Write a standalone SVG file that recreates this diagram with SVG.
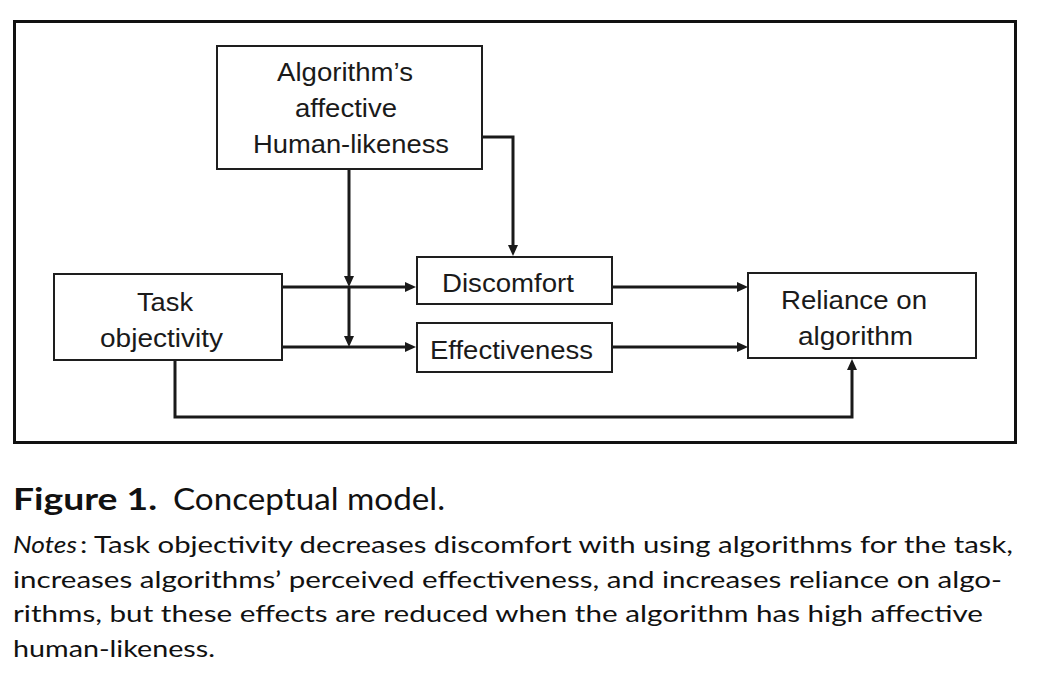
<svg xmlns="http://www.w3.org/2000/svg" width="1040" height="686" viewBox="0 0 1040 686">
<defs>
<style>
.box{fill:#fff;stroke:#1e1e1e;stroke-width:2}
.lbl{font-family:"Liberation Sans",Arial,sans-serif;font-size:25px;fill:#1a1a1a;text-anchor:middle}
.con{fill:none;stroke:#1a1a1a;stroke-width:3}
.cap{font-family:Lato,"Open Sans",sans-serif;fill:#111}
</style>
<marker id="ah" markerUnits="userSpaceOnUse" markerWidth="12" markerHeight="12" viewBox="0 0 12 12" refX="3" refY="6" orient="auto">
<path d="M0,1 L11,6 L0,11 Z" fill="#1a1a1a"/>
</marker>
</defs>
<rect width="1040" height="686" fill="#fff"/>
<rect x="14.5" y="21.5" width="1001" height="421" fill="none" stroke="#111" stroke-width="3"/>

<g id="connectors">
<path class="con" d="M282 287 H408" marker-end="url(#ah)"/>
<path class="con" d="M282 347 H408" marker-end="url(#ah)"/>
<path class="con" d="M349 169 V279" marker-end="url(#ah)"/>
<path class="con" d="M349 287 V339" marker-end="url(#ah)"/>
<path class="con" d="M482 137 H513 V248" marker-end="url(#ah)"/>
<path class="con" d="M612 287 H740" marker-end="url(#ah)"/>
<path class="con" d="M612 347 H740" marker-end="url(#ah)"/>
<path class="con" d="M175 360 V417 H852 V367" marker-end="url(#ah)"/>
</g>

<g id="human-likeness">
<rect class="box" x="217" y="46" width="265" height="123"/>
<text class="lbl" x="345" y="81" textLength="136" lengthAdjust="spacingAndGlyphs">Algorithm’s</text>
<text class="lbl" x="346" y="117" textLength="102" lengthAdjust="spacingAndGlyphs">affective</text>
<text class="lbl" x="351" y="153" textLength="196" lengthAdjust="spacingAndGlyphs">Human-likeness</text>
</g>

<g id="task-objectivity">
<rect class="box" x="54" y="274" width="228" height="86"/>
<text class="lbl" x="165" y="311" textLength="56" lengthAdjust="spacingAndGlyphs">Task</text>
<text class="lbl" x="161.5" y="347" textLength="123" lengthAdjust="spacingAndGlyphs">objectivity</text>
</g>

<g id="discomfort">
<rect class="box" x="417" y="257" width="195" height="47"/>
<text class="lbl" x="508" y="292" textLength="132" lengthAdjust="spacingAndGlyphs">Discomfort</text>
</g>

<g id="effectiveness">
<rect class="box" x="417" y="323" width="195" height="49"/>
<text class="lbl" x="511.5" y="359" textLength="163" lengthAdjust="spacingAndGlyphs">Effectiveness</text>
</g>

<g id="reliance">
<rect class="box" x="748" y="273" width="228" height="85"/>
<text class="lbl" x="854" y="309" textLength="146" lengthAdjust="spacingAndGlyphs">Reliance on</text>
<text class="lbl" x="855.5" y="345" textLength="115" lengthAdjust="spacingAndGlyphs">algorithm</text>
</g>

<g id="caption">
<text class="cap" x="13" y="510" font-size="31" font-weight="bold" textLength="144" lengthAdjust="spacingAndGlyphs">Figure 1.</text>
<text class="cap" x="173" y="510" font-size="30" textLength="272" lengthAdjust="spacingAndGlyphs">Conceptual model.</text>
<text class="cap" x="13" y="553" font-size="24" font-style="italic" textLength="64" lengthAdjust="spacingAndGlyphs">Notes</text>
<text class="cap" x="80" y="553" font-size="24" textLength="933" lengthAdjust="spacingAndGlyphs">: Task objectivity decreases discomfort with using algorithms for the task,</text>
<text class="cap" x="13" y="588" font-size="24" textLength="989" lengthAdjust="spacingAndGlyphs">increases algorithms’ perceived effectiveness, and increases reliance on algo-</text>
<text class="cap" x="13" y="622" font-size="24" textLength="970" lengthAdjust="spacingAndGlyphs">rithms, but these effects are reduced when the algorithm has high affective</text>
<text class="cap" x="13" y="657" font-size="24" textLength="202" lengthAdjust="spacingAndGlyphs">human-likeness.</text>
</g>
</svg>
